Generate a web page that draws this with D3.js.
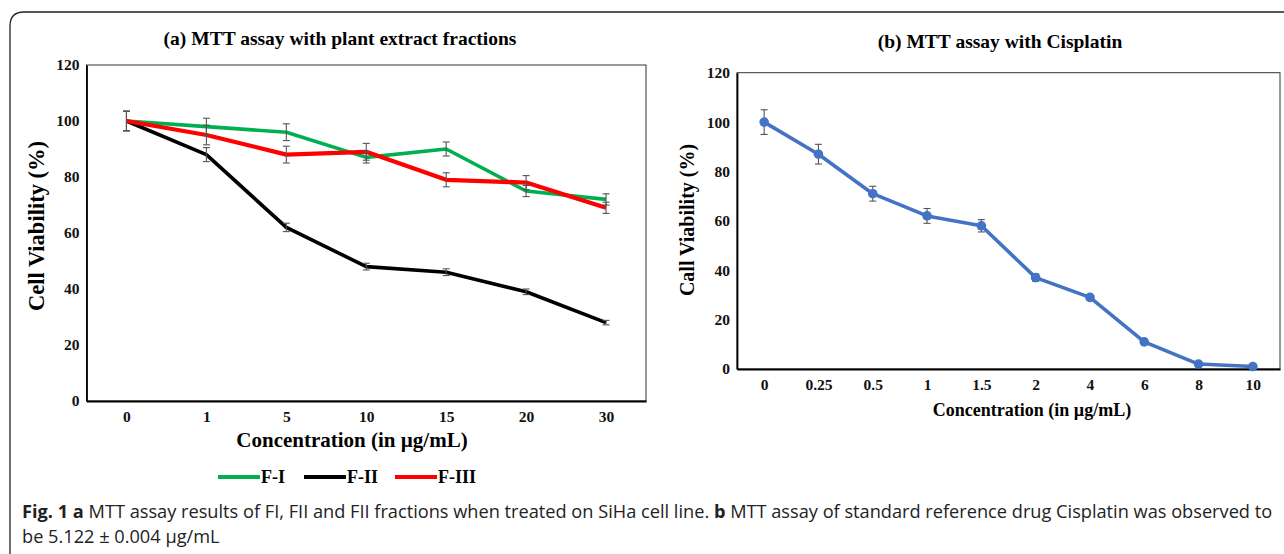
<!DOCTYPE html>
<html>
<head>
<meta charset="utf-8">
<script src="https://cdn.jsdelivr.net/npm/d3@7"></script>
<style>
  body { margin: 0; background: #fff; }
  svg { display: block; }
  .tick text { font-family: "Liberation Serif", serif; font-weight: bold; }
</style>
</head>
<body>
<svg id="chart" width="1284" height="554"></svg>
<script>
// panel (a) data
var concA = ["0", "1", "5", "10", "15", "20", "30"];
var fI = [100, 98, 96, 87, 90, 75, 72];
var fIErr = [3.5, 3, 3, 2, 2.5, 2, 2];
var fII = [100, 88, 62, 48, 46, 39, 28];
var fIIErr = [3.5, 2.5, 1.5, 1.2, 1.2, 1, 0.8];
var fIII = [100, 95, 88, 89, 79, 78, 69];
var fIIIErr = [3.5, 3.5, 3, 3, 2.5, 2.5, 2];
var ticksA = [0, 20, 40, 60, 80, 100, 120];

// panel (b) data
var concB = ["0", "0.25", "0.5", "1", "1.5", "2", "4", "6", "8", "10"];
var cis = [100, 87, 71, 62, 58, 37, 29, 11, 2, 1];
var cisErr = [5, 4, 3, 3, 2.5, 1.5, 1, 0.8, 0.5, 0.3];
var ticksB = [0, 20, 40, 60, 80, 100, 120];

var svg = d3.select("#chart");

// outer frame, rounded top-left corner
svg.append("path")
  .attr("d", "M10,554 L10,26 Q10,12 24,12 L1284,12")
  .attr("fill", "none").attr("stroke", "#222").attr("stroke-width", 1.3);

// ---------- panel (a) ----------
var xA = d3.scalePoint().domain(concA).range([86.5, 646]).padding(0.5);
var yA = d3.scaleLinear().domain([0, 120]).range([401, 65]);

var gA = svg.append("g");
gA.append("rect").attr("x", 86.5).attr("y", 65).attr("width", 646 - 86.5).attr("height", 401 - 65)
  .attr("fill", "none").attr("stroke", "#333").attr("stroke-width", 1);

var axA = gA.append("g").attr("transform", "translate(86.5,0)")
  .call(d3.axisLeft(yA).tickValues(ticksA).tickSize(0).tickPadding(7));
axA.select(".domain").attr("stroke", "#000").attr("stroke-width", 1.8);
axA.selectAll("text").attr("font-size", 15.5).attr("fill", "#111");

var axAx = gA.append("g").attr("transform", "translate(0,401)")
  .call(d3.axisBottom(xA).tickSize(0).tickPadding(10));
axAx.select(".domain").attr("stroke", "#000").attr("stroke-width", 1.8);
axAx.selectAll("text").attr("font-size", 15.5).attr("fill", "#111");

var seriesA = [
  { name: "F-I", vals: fI, err: fIErr, color: "#00b050", w: 3.6 },
  { name: "F-II", vals: fII, err: fIIErr, color: "#000000", w: 3.6 },
  { name: "F-III", vals: fIII, err: fIIIErr, color: "#ff0000", w: 4.2 }
];

var lineA = d3.line().x(function (d, i) { return xA(concA[i]); }).y(function (d) { return yA(d); });

seriesA.forEach(function (s) {
  gA.append("path").datum(s.vals)
    .attr("d", lineA).attr("fill", "none")
    .attr("stroke", s.color).attr("stroke-width", s.w).attr("stroke-linejoin", "round");
});

// error bars
function errBars(g, xs, ys, cats, vals, errs) {
  vals.forEach(function (v, i) {
    var x = xs(cats[i]);
    var eb = g.append("g").attr("stroke", "#555").attr("stroke-width", 1.1);
    eb.append("line").attr("x1", x).attr("x2", x).attr("y1", ys(v - errs[i])).attr("y2", ys(v + errs[i]));
    eb.append("line").attr("x1", x - 3.5).attr("x2", x + 3.5).attr("y1", ys(v - errs[i])).attr("y2", ys(v - errs[i]));
    eb.append("line").attr("x1", x - 3.5).attr("x2", x + 3.5).attr("y1", ys(v + errs[i])).attr("y2", ys(v + errs[i]));
  });
}
seriesA.forEach(function (s) { errBars(gA, xA, yA, concA, s.vals, s.err); });

gA.append("text").attr("x", 340).attr("y", 45).attr("text-anchor", "middle")
  .attr("font-family", "Liberation Serif").attr("font-weight", "bold").attr("font-size", 19.5)
  .text("(a) MTT assay with plant extract fractions");

gA.append("text").attr("transform", "translate(44,226) rotate(-90)").attr("text-anchor", "middle")
  .attr("font-family", "Liberation Serif").attr("font-weight", "bold").attr("font-size", 22.5)
  .text("Cell Viability (%)");

gA.append("text").attr("x", 352).attr("y", 447).attr("text-anchor", "middle")
  .attr("font-family", "Liberation Serif").attr("font-weight", "bold").attr("font-size", 21)
  .text("Concentration (in µg/mL)");

// legend
var legX = [218, 304, 395];
seriesA.forEach(function (s, i) {
  gA.append("line").attr("x1", legX[i]).attr("x2", legX[i] + 42).attr("y1", 477).attr("y2", 477)
    .attr("stroke", s.color).attr("stroke-width", 4);
  gA.append("text").attr("x", legX[i] + 43).attr("y", 483)
    .attr("font-family", "Liberation Serif").attr("font-weight", "bold").attr("font-size", 18)
    .text(s.name);
});

// ---------- panel (b) ----------
var xB = d3.scalePoint().domain(concB).range([737, 1280]).padding(0.5);
var yB = d3.scaleLinear().domain([0, 120]).range([369, 72.7]);

var gB = svg.append("g");
gB.append("rect").attr("x", 737).attr("y", 72.7).attr("width", 1280 - 737).attr("height", 369 - 72.7)
  .attr("fill", "none").attr("stroke", "#333").attr("stroke-width", 1);

var axB = gB.append("g").attr("transform", "translate(737,0)")
  .call(d3.axisLeft(yB).tickValues(ticksB).tickSize(0).tickPadding(7));
axB.select(".domain").attr("stroke", "#000").attr("stroke-width", 1.8);
axB.selectAll("text").attr("font-size", 15.5).attr("fill", "#111");

var axBx = gB.append("g").attr("transform", "translate(0,369)")
  .call(d3.axisBottom(xB).tickSize(0).tickPadding(10));
axBx.select(".domain").attr("stroke", "#000").attr("stroke-width", 1.8);
axBx.selectAll("text").attr("font-size", 15.5).attr("fill", "#111");

var lineB = d3.line().x(function (d, i) { return xB(concB[i]); }).y(function (d) { return yB(d); });
gB.append("path").datum(cis).attr("d", lineB).attr("fill", "none")
  .attr("stroke", "#4472c4").attr("stroke-width", 3.6).attr("stroke-linejoin", "round");
errBars(gB, xB, yB, concB, cis, cisErr);
gB.selectAll("circle.pt").data(cis).enter().append("circle").attr("class", "pt")
  .attr("cx", function (d, i) { return xB(concB[i]); }).attr("cy", function (d) { return yB(d); })
  .attr("r", 4.8).attr("fill", "#4472c4");

gB.append("text").attr("x", 1000).attr("y", 48).attr("text-anchor", "middle")
  .attr("font-family", "Liberation Serif").attr("font-weight", "bold").attr("font-size", 19.5)
  .text("(b) MTT assay with Cisplatin");

gB.append("text").attr("transform", "translate(694,220) rotate(-90)").attr("text-anchor", "middle")
  .attr("font-family", "Liberation Serif").attr("font-weight", "bold").attr("font-size", 20)
  .text("Call Viability (%)");

gB.append("text").attr("x", 1032).attr("y", 416).attr("text-anchor", "middle")
  .attr("font-family", "Liberation Serif").attr("font-weight", "bold").attr("font-size", 18)
  .text("Concentration (in µg/mL)");

// ---------- caption ----------
// size the caption font so line 1 spans the figure width
function fitText(sel, width) {
  var len = sel.node().getComputedTextLength();
  var fs = +sel.attr("font-size");
  sel.attr("font-size", (fs * width / len).toFixed(2));
}
var cap1 = svg.append("text").attr("x", 22).attr("y", 518)
  .attr("font-family", "Open Sans").attr("font-size", 16).attr("fill", "#222");
cap1.append("tspan").attr("font-weight", "bold").text("Fig. 1  a");
cap1.append("tspan").text(" MTT assay results of FI, FII and FII fractions when treated on SiHa cell line. ");
cap1.append("tspan").attr("font-weight", "bold").text("b");
cap1.append("tspan").text(" MTT assay of standard reference drug Cisplatin was observed to");
fitText(cap1, 1252);

var cap2 = svg.append("text").attr("x", 22).attr("y", 543)
  .attr("font-family", "Open Sans").attr("font-size", cap1.attr("font-size")).attr("fill", "#222")
  .text("be 5.122 ± 0.004 µg/mL");
</script>
</body>
</html>
